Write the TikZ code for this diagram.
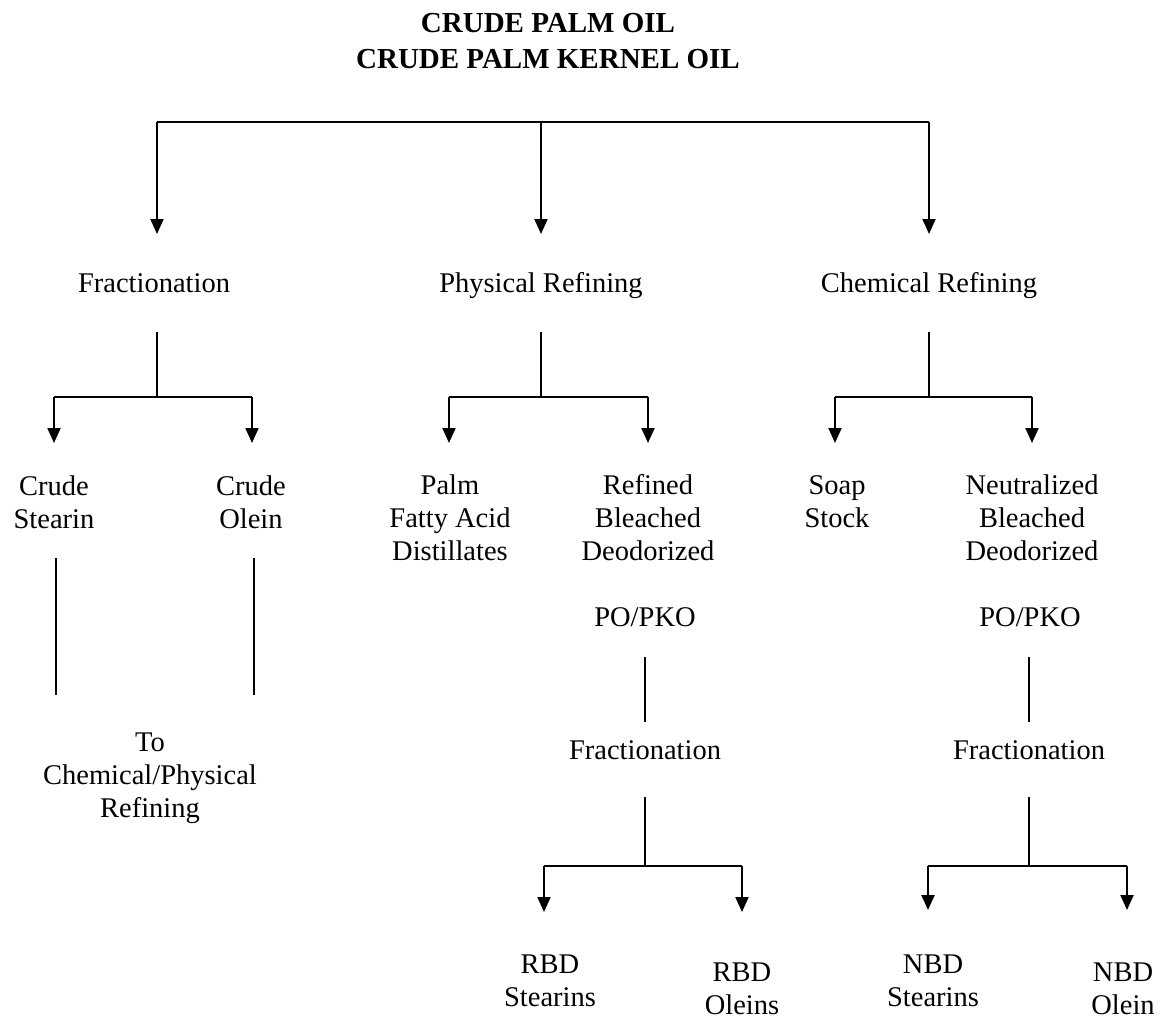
\documentclass[tikz,border=0pt]{standalone}
\usepackage{fontspec}
\setmainfont{Liberation Serif}
\usetikzlibrary{arrows.meta}
\begin{document}
\begin{tikzpicture}[x=1pt,y=-1pt,
  lbl/.style={align=center,inner sep=0pt,font=\fontsize{28.5}{33}\selectfont},
  ttl/.style={align=center,inner sep=0pt,font=\fontsize{29}{36}\selectfont\bfseries},
  conn/.style={line width=2pt},
  arr/.style={line width=2pt,-{Triangle[width=13pt,length=15pt]}}]
\useasboundingbox (0,0) rectangle (1164,1026);
% title
\node[ttl] (title) at (548,41) {CRUDE PALM OIL\\CRUDE PALM KERNEL OIL};
% top distribution
\coordinate (tc) at (541,122);
\coordinate (tl) at (157,122);
\coordinate (tr) at (929,122);
\node[lbl] (frac) at (154,283) {Fractionation};
\node[lbl] (phys) at (541,286) {Physical Refining};
\node[lbl] (chem) at (929,286) {Chemical Refining};
\draw[conn] (tl) -- (tr);
\draw[arr] (tl) -- (157,234) coordinate (al);
\draw[arr] (tc) -- (541,234) coordinate (ac);
\draw[arr] (tr) -- (929,234) coordinate (ar);
% fractionation branch
\coordinate (f1) at (157,332);
\coordinate (f2) at (157,397);
\coordinate (f2l) at (54,397);
\coordinate (f2r) at (252,397);
\draw[conn] (f1) -- (f2);
\draw[conn] (f2l) -- (f2r);
\draw[arr] (f2l) -- (54,443) coordinate (fal);
\draw[arr] (f2r) -- (252,443) coordinate (far);
\node[lbl] (cst) at (54,502) {Crude\\Stearin};
\node[lbl] (col) at (251,502) {Crude\\Olein};
\coordinate (s1) at (56,558);
\coordinate (s2) at (56,695);
\coordinate (o1) at (254,558);
\coordinate (o2) at (254,695);
\draw[conn] (s1) -- (s2);
\draw[conn] (o1) -- (o2);
\node[lbl] (to) at (150,778) {To\\Chemical/Physical\\Refining};
% physical refining branch
\coordinate (p1) at (541,332);
\coordinate (p2) at (541,397);
\coordinate (p2l) at (449,397);
\coordinate (p2r) at (648,397);
\draw[conn] (p1) -- (p2);
\draw[conn] (p2l) -- (p2r);
\draw[arr] (p2l) -- (449,443) coordinate (pal);
\draw[arr] (p2r) -- (648,443) coordinate (par);
\node[lbl] (pfad) at (450,518) {Palm\\Fatty Acid\\Distillates};
\node[lbl] (rbd) at (648,518) {Refined\\Bleached\\Deodorized};
\node[lbl] (popko1) at (645,617) {PO/PKO};
\coordinate (q1) at (645,657);
\coordinate (q2) at (645,722);
\draw[conn] (q1) -- (q2);
\node[lbl] (frac2) at (645,750) {Fractionation};
\coordinate (q3) at (645,797);
\coordinate (q4) at (645,866);
\coordinate (q4l) at (544,866);
\coordinate (q4r) at (742,866);
\draw[conn] (q3) -- (q4);
\draw[conn] (q4l) -- (q4r);
\draw[arr] (q4l) -- (544,912) coordinate (qal);
\draw[arr] (q4r) -- (742,912) coordinate (qar);
\node[lbl] (rbds) at (550,981) {RBD\\Stearins};
\node[lbl] (rbdo) at (742,989) {RBD\\Oleins};
% chemical refining branch
\coordinate (c1) at (929,332);
\coordinate (c2) at (929,397);
\coordinate (c2l) at (835,397);
\coordinate (c2r) at (1032,397);
\draw[conn] (c1) -- (c2);
\draw[conn] (c2l) -- (c2r);
\draw[arr] (c2l) -- (835,443) coordinate (cal);
\draw[arr] (c2r) -- (1032,443) coordinate (car);
\node[lbl] (soap) at (837,502) {Soap\\Stock};
\node[lbl] (nbd) at (1032,518) {Neutralized\\Bleached\\Deodorized};
\node[lbl] (popko2) at (1030,617) {PO/PKO};
\coordinate (d1) at (1029,657);
\coordinate (d2) at (1029,722);
\draw[conn] (d1) -- (d2);
\node[lbl] (frac3) at (1029,750) {Fractionation};
\coordinate (d3) at (1029,797);
\coordinate (d4) at (1029,866);
\coordinate (d4l) at (928,866);
\coordinate (d4r) at (1127,866);
\draw[conn] (d3) -- (d4);
\draw[conn] (d4l) -- (d4r);
\draw[arr] (d4l) -- (928,910) coordinate (dal);
\draw[arr] (d4r) -- (1127,910) coordinate (dar);
\node[lbl] (nbds) at (933,981) {NBD\\Stearins};
\node[lbl] (nbdo) at (1123,989) {NBD\\Olein};
\end{tikzpicture}
\end{document}
